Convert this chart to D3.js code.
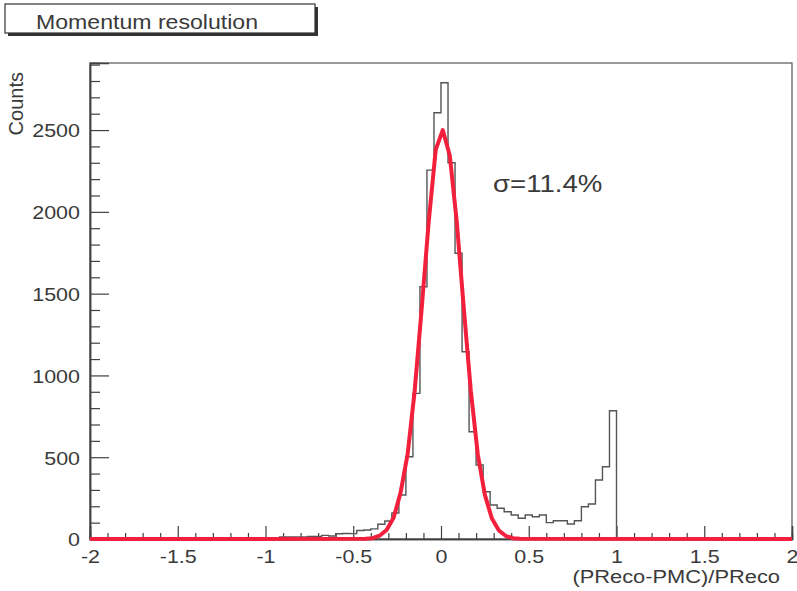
<!DOCTYPE html>
<html><head><meta charset="utf-8">
<script src="https://cdn.jsdelivr.net/npm/d3@7"></script>
<style>
body{margin:0;background:#fff}
text{font-family:"Liberation Sans",Arial,Helvetica,sans-serif;fill:#3a3a3a}
</style>
</head><body>
<svg id="chart" width="797" height="591"></svg>
<script>
// ---------------- data ----------------
const titleText = "Momentum resolution";
const xTitle = "(PReco-PMC)/PReco";
const yTitle = "Counts";
const fitLabel = "σ=11.4%";

const histRange = [-2, 2];      // histogram axis range
const binWidth = 0.04;          // 100 bins
// counts per bin, lower edges -2.00, -1.96, ... 1.96
const counts = [
  0,0,0,0,0,0,0,0,0,0,
  0,0,0,0,0,0,0,0,0,0,
  0,0,0,2,3,4,8,12,12,13,
  12,15,16,22,18,32,34,33,52,55,
  62,90,110,159,269,503,890,1542,2255,2606,
  2789,2300,1747,1145,656,452,289,208,188,167,
  147,127,147,136,147,100,112,112,92,112,
  197,214,361,442,784,0,0,0,0,0,
  0,0,0,0,0,0,0,0,0,0,
  0,0,0,0,0,0,0,0,0,0
];

const fitX = [-2, -0.43, -0.39, -0.35, -0.31, -0.27, -0.23, -0.19, -0.15, -0.11, -0.07, -0.03,
              0.01, 0.05, 0.09, 0.13, 0.17, 0.21, 0.25, 0.29, 0.33, 0.37, 0.41, 0.45, 2];
const fitY = [0, 1, 5, 20, 55, 130, 285, 520, 905, 1410, 1940, 2380,
              2500, 2345, 1937, 1408, 905, 515, 270, 125, 52, 18, 5, 1, 0];

const xMajorTicks = [-2, -1.5, -1, -0.5, 0, 0.5, 1, 1.5, 2];
const xTickLabels = ["-2", "-1.5", "-1", "-0.5", "0", "0.5", "1", "1.5", "2"];
const yMajorTicks = [0, 500, 1000, 1500, 2000, 2500];
const yTickLabels = ["0", "500", "1000", "1500", "2000", "2500"];

// ---------------- drawing ----------------
const svg = d3.select("#chart");
const SX = 1.13;
const axisColor = "#404040";

const x = d3.scaleLinear().domain(histRange).range([90, 792]);
const y = d3.scaleLinear().domain([0, 2910]).range([539, 63]);

// title box with shadow
svg.append("rect").attr("x", 8).attr("y", 7).attr("width", 310).attr("height", 29).attr("fill", "#333");
svg.append("rect").attr("x", 5).attr("y", 4).attr("width", 310).attr("height", 29)
  .attr("fill", "#fff").attr("stroke", "#333").attr("stroke-width", 1.2);
svg.append("g").attr("transform", "translate(36,28.5)")
  .append("text").attr("transform", "scale(1.1,1)").attr("font-size", 21).text(titleText);

// frame
svg.append("rect").attr("x", x.range()[0]).attr("y", y.range()[1])
  .attr("width", x.range()[1] - x.range()[0]).attr("height", y.range()[0] - y.range()[1])
  .attr("fill", "none").attr("stroke", "#555").attr("stroke-width", 1.2);

// minor ticks
const xMinor = d3.range(-20, 21).map(d => d / 10).filter(d => Math.abs(d * 2 - Math.round(d * 2)) > 1e-6);
const yMinor = d3.range(0, 2901, 100).filter(d => d % 500 !== 0);

const gxMinor = svg.append("g").attr("transform", `translate(0,${y(0)})`)
  .call(d3.axisBottom(x).tickValues(xMinor).tickSize(-6).tickFormat(""));
const gyMinor = svg.append("g").attr("transform", `translate(${x(-2)},0)`)
  .call(d3.axisLeft(y).tickValues(yMinor).tickSize(-10).tickFormat(""));

const gx = svg.append("g").attr("transform", `translate(0,${y(0)})`)
  .call(d3.axisBottom(x).tickValues(xMajorTicks).tickSize(-13)
    .tickFormat((d, i) => xTickLabels[i]));
const gy = svg.append("g").attr("transform", `translate(${x(-2)},0)`)
  .call(d3.axisLeft(y).tickValues(yMajorTicks).tickSize(-19)
    .tickFormat((d, i) => yTickLabels[i]));

[gxMinor, gyMinor, gx, gy].forEach(g => {
  g.selectAll(".tick line").attr("stroke", axisColor).attr("stroke-width", 1.2);
  g.select(".domain").attr("stroke", axisColor).attr("stroke-width", 1.5);
  g.attr("font-family", null).attr("font-size", null);
});
gx.selectAll(".tick text").attr("y", 24).attr("dy", 0).attr("font-size", 19)
  .attr("transform", `scale(${SX},1)`);
gy.selectAll(".tick text").attr("x", -10 / SX).attr("dy", "0.36em").attr("font-size", 19)
  .attr("transform", `scale(${SX},1)`);

// histogram step line
const edges = counts.map((c, i) => histRange[0] + i * binWidth);
const stepPts = counts.map((c, i) => [edges[i], c]);
stepPts.push([histRange[1], counts[counts.length - 1]]);
const stepLine = d3.line().x(d => x(d[0])).y(d => y(d[1])).curve(d3.curveStepAfter);
svg.append("path").attr("d", stepLine(stepPts))
  .attr("fill", "none").attr("stroke", "#555").attr("stroke-width", 1.4);

// fit curve
const fitLine = d3.line().x(d => x(d[0])).y(d => y(d[1]));
svg.append("path").attr("d", fitLine(fitX.map((v, i) => [v, fitY[i]])))
  .attr("fill", "none").attr("stroke", "#f2203c").attr("stroke-width", 4)
  .attr("stroke-linejoin", "round");

// axis titles
svg.append("g").attr("transform", "translate(780,583)")
  .append("text").attr("text-anchor", "end").attr("transform", "scale(1.15,1)")
  .attr("font-size", 19).text(xTitle);
svg.append("text").attr("transform", "translate(23,72) rotate(-90)")
  .attr("text-anchor", "end").attr("font-size", 20).text(yTitle);

// annotation
svg.append("g").attr("transform", "translate(493,192)")
  .append("text").attr("transform", "scale(1.15,1)").attr("font-size", 24).text(fitLabel);
</script>
</body></html>
